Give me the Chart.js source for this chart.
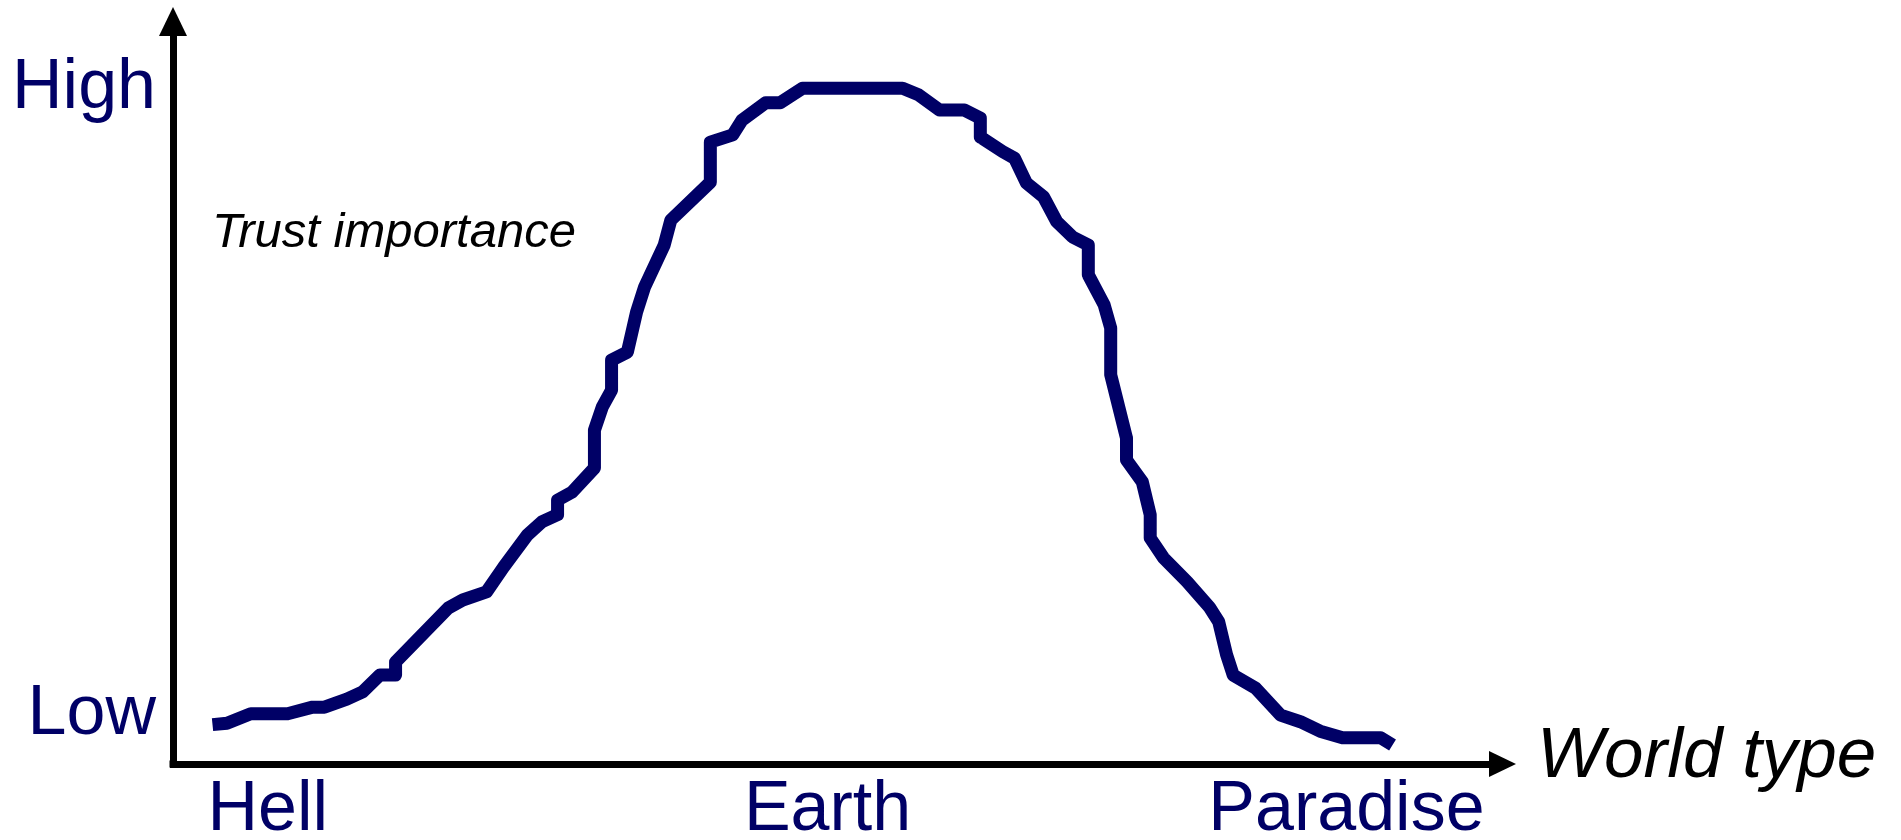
<!DOCTYPE html>
<html>
<head>
<meta charset="utf-8">
<title>Trust importance by world type</title>
<script src="https://cdn.jsdelivr.net/npm/chart.js@4.4.1/dist/chart.umd.min.js"></script>
<style>
  html, body { margin: 0; padding: 0; background: #fff; }
  .chart-box { width: 1901px; height: 840px; }
</style>
</head>
<body>
<div class="chart-box"><canvas id="trustChart"></canvas></div>
<script>
// world type runs 0 (hell side) .. 100 (end of the arrow), trust 0 .. 100
const WORLD_TYPE = [3.0, 4.1, 5.9, 8.7, 10.6, 11.5, 13.2, 14.4, 15.7, 16.9, 16.9, 20.9,
  22.0, 23.8, 25.1, 26.9, 28.0, 29.2, 29.2, 30.3, 32.0, 32.0, 32.6, 33.3, 33.3, 34.5,
  35.2, 35.8, 37.3, 37.8, 40.8, 40.8, 42.5, 43.2, 45.0, 46.1, 47.8, 55.4, 56.6, 58.2,
  60.1, 61.3, 61.3, 63.0, 63.9, 64.8, 66.1, 67.1, 68.3, 69.5, 69.5, 70.7, 71.2, 71.2,
  72.4, 72.4, 73.6, 74.2, 74.2, 75.2, 77.0, 78.7, 79.4, 80.0, 80.5, 82.2, 84.1, 85.6,
  87.1, 88.8, 91.7, 92.6];
const TRUST = [5.4, 5.6, 6.9, 6.9, 7.8, 7.8, 8.9, 9.9, 12.2, 12.2, 14.0, 21.4,
  22.5, 23.6, 27.0, 31.4, 33.2, 34.2, 36.2, 37.3, 40.6, 45.8, 49.0, 51.3, 55.4, 56.5,
  62.0, 65.4, 71.2, 74.6, 79.8, 85.3, 86.3, 88.3, 90.7, 90.7, 92.7, 92.7, 91.8, 89.7,
  89.7, 88.6, 86.0, 84.0, 83.1, 79.7, 77.8, 74.4, 72.3, 71.2, 67.1, 63.0, 59.8, 53.4,
  44.7, 41.7, 38.7, 34.2, 31.0, 28.3, 25.0, 21.5, 19.5, 15.0, 12.2, 10.4, 6.7, 5.8,
  4.5, 3.6, 3.6, 2.6];

const X_TICK_VALUES = [7.2, 49.7, 89.1];
const X_TICK_LABELS = ['Hell', 'Earth', 'Paradise'];
const Y_TICK_VALUES = [6.7, 92.6];
const Y_TICK_LABELS = ['Low', 'High'];

const NAVY = '#000066';
const FONT = '"Liberation Sans", Arial, Helvetica, sans-serif';

// arrow heads and the two italic captions
const arrowsAndCaptions = {
  id: 'arrowsAndCaptions',
  afterDraw(chart) {
    const {ctx, chartArea: a} = chart;
    ctx.save();
    ctx.fillStyle = '#000';
    // square off the corner where the two borders meet
    ctx.fillRect(a.left - 3.5, a.bottom - 3.5, 7, 7);
    // y arrow
    ctx.beginPath();
    ctx.moveTo(a.left - 14, a.top + 1);
    ctx.lineTo(a.left + 14, a.top + 1);
    ctx.lineTo(a.left, a.top - 28);
    ctx.closePath();
    ctx.fill();
    // x arrow
    ctx.beginPath();
    ctx.moveTo(a.right - 1, a.bottom - 13);
    ctx.lineTo(a.right - 1, a.bottom + 13);
    ctx.lineTo(a.right + 26, a.bottom);
    ctx.closePath();
    ctx.fill();

    ctx.textBaseline = 'alphabetic';
    ctx.textAlign = 'left';
    ctx.font = 'italic 49px ' + FONT;
    ctx.fillText('Trust importance', a.left + 39, 247);
    ctx.font = 'italic 71px ' + FONT;
    ctx.fillText('World type', a.right + 47, 777);
    ctx.restore();
  }
};

const ctx = document.getElementById('trustChart');
const trustChart = new Chart(ctx, {
  type: 'line',
  data: {
    datasets: [{
      data: WORLD_TYPE.map((x, i) => ({x: x, y: TRUST[i]})),
      borderColor: NAVY,
      borderWidth: 13,
      borderJoinStyle: 'round',
      pointRadius: 0,
      fill: false,
      tension: 0
    }]
  },
  options: {
    responsive: true,
    maintainAspectRatio: false,
    animation: false,
    layout: {padding: {left: 0, top: 35, right: 411, bottom: 0}},
    plugins: {legend: {display: false}, tooltip: {enabled: false}},
    scales: {
      x: {
        type: 'linear', min: 0, max: 100,
        grid: {display: false, drawTicks: false},
        border: {display: true, color: '#000', width: 7},
        afterBuildTicks: (s) => { s.ticks = X_TICK_VALUES.map(v => ({value: v})); },
        afterFit: (s) => {
          s.height = 76;
          s.paddingLeft = 0;
          s.paddingRight = 0;
        },
        ticks: {
          color: NAVY, padding: 5, maxRotation: 0, autoSkip: false,
          font: {family: FONT, size: 70},
          callback: (v, i) => X_TICK_LABELS[i]
        }
      },
      y: {
        type: 'linear', min: 0, max: 100,
        grid: {display: false, drawTicks: false},
        border: {display: true, color: '#000', width: 7},
        afterBuildTicks: (s) => { s.ticks = Y_TICK_VALUES.map(v => ({value: v})); },
        afterFit: (s) => {
          s.width = 173;
          // labels sit well inside the axis, keep them out of the layout padding
          s.paddingTop = 0;
          s.paddingBottom = 0;
        },
        ticks: {
          color: NAVY, padding: 17, autoSkip: false,
          font: {family: FONT, size: 70},
          callback: (v, i) => Y_TICK_LABELS[i]
        }
      }
    }
  },
  plugins: [arrowsAndCaptions]
});
</script>
</body>
</html>
